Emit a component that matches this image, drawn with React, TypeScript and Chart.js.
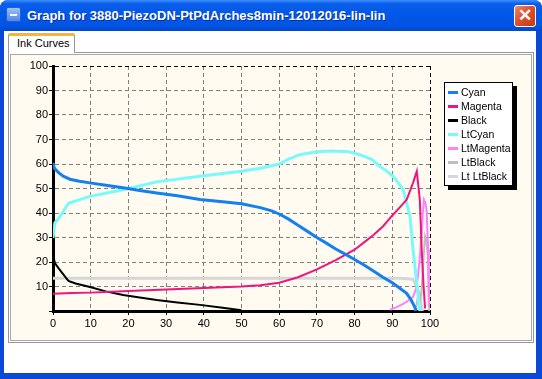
import React, { useEffect, useRef } from "react";
import { Chart, registerables } from "chart.js";

Chart.register(...registerables);

const TITLE = "Graph for 3880-PiezoDN-PtPdArches8min-12012016-lin-lin";
const TAB_LABEL = "Ink Curves";

const SERIES_NAMES = ["Cyan", "Magenta", "Black", "LtCyan", "LtMagenta", "LtBlack", "Lt LtBlack"];
const SERIES_COLORS = ["#1480F0", "#F0147C", "#000000", "#78FAFA", "#FF80FF", "#BEBEBE", "#D6D6D6"];
const SERIES_WIDTHS = [3, 2, 2, 3, 2, 2, 3];

const cyanX = [0, 0.3, 0.6, 1.5, 2.7, 4.5, 7, 9.8, 14, 18.6, 23, 27.5, 33, 39, 45, 50, 55, 58, 60, 62.5, 65, 67.5, 70, 72.5, 75, 77.5, 80, 82.5, 85, 87.5, 90, 92, 93.8, 95, 96, 96.3];
const cyanY = [60.5, 58.5, 57.8, 56.5, 55, 53.8, 53, 52.3, 51.3, 50.3, 49.2, 48.2, 47, 45.5, 44.6, 43.8, 42.2, 40.9, 39.6, 37.5, 35, 32.5, 30, 27.7, 25.3, 23.2, 21, 18.8, 16.3, 13.8, 11.5, 9.3, 7.2, 4.5, 1.5, 0];

const magentaX = [0, 5, 10, 20, 30, 40, 50, 55, 60, 65, 70, 75, 80, 82.5, 85, 87.5, 90, 92, 93.8, 95.5, 96.5, 97.3, 97.8, 98.3, 98.7];
const magentaY = [7, 7.3, 7.5, 8.2, 8.8, 9.4, 10, 10.5, 11.5, 13.8, 17, 20.8, 25, 28, 31, 34.5, 39, 42.3, 45.4, 52.3, 57, 45.4, 25, 10, 1];

const blackX = [0, 0.5, 1.4, 3.2, 4.1, 6, 9.8, 14, 18.6, 23, 27.5, 33, 39, 45, 50];
const blackY = [23, 19.6, 17.6, 14, 12.3, 11.2, 9.8, 8, 6.5, 5.5, 4.5, 3.5, 2.5, 1.3, 0.3];

const ltCyanX = [0, 0.5, 1.9, 4.1, 9.8, 18.6, 27.5, 39, 50, 55, 60, 62.5, 65.4, 70, 74, 78.5, 81.4, 84.6, 86.7, 88, 90.2, 91.7, 92.9, 94.7, 95.5, 96.5, 97.3];
const ltCyanY = [29.8, 36, 38.6, 44, 46.8, 49.5, 52.7, 55, 57, 58.3, 60, 62, 63.8, 65, 65.3, 65, 63.8, 61.8, 59, 57.7, 55, 52, 49.5, 38.6, 25, 11.4, 0];

const ltMagentaX = [89.4, 91, 92.9, 94.5, 95.5, 96.3, 96.8, 97.3, 97.8, 98.1, 98.4, 98.8, 99.1, 99.5, 99.7];
const ltMagentaY = [0.5, 1.5, 2.9, 4.5, 5.8, 9, 14, 22, 32, 40, 45.4, 44, 41, 25, 1.7];

const ltBlackX = [96, 96.5, 97, 97.5, 97.8, 98.2, 98.7, 99.1, 99.5, 99.8];
const ltBlackY = [0, 3, 8, 5, 8.6, 20, 30.4, 28, 21, 0];

const ltLtBlackX = [0, 92, 95.5, 96.5, 97.5, 98];
const ltLtBlackY = [13.4, 13.4, 13, 10, 4, 0];

const SERIES_X = [cyanX, magentaX, blackX, ltCyanX, ltMagentaX, ltBlackX, ltLtBlackX];
const SERIES_Y = [cyanY, magentaY, blackY, ltCyanY, ltMagentaY, ltBlackY, ltLtBlackY];

const AXIS_MIN = 0;
const AXIS_MAX = 100;
const AXIS_STEP = 10;

const FONT = "'Liberation Sans', Arial, sans-serif";

function ChartCanvas() {
  const ref = useRef<HTMLCanvasElement | null>(null);
  useEffect(() => {
    if (!ref.current) return;
    const datasets = SERIES_NAMES.map((name, i) => ({
      label: name,
      data: SERIES_X[i].map((x, j) => ({ x, y: SERIES_Y[i][j] })),
      borderColor: SERIES_COLORS[i],
      backgroundColor: SERIES_COLORS[i],
      borderWidth: SERIES_WIDTHS[i],
      pointRadius: 0,
      tension: 0,
      fill: false,
    }));
    const gridColor = (c: any) => (c.tick && c.tick.value === AXIS_MAX ? "#000000" : "#808080");
    const chart = new Chart(ref.current, {
      type: "line",
      data: { datasets },
      options: {
        animation: false,
        responsive: false,
        maintainAspectRatio: false,
        layout: { padding: { top: 11, right: 101, left: 0, bottom: 0 } },
        plugins: { legend: { display: false }, tooltip: { enabled: false } },
        scales: {
          x: {
            type: "linear",
            min: AXIS_MIN,
            max: AXIS_MAX,
            afterFit: (s: any) => { s.height = 29; },
            ticks: { stepSize: AXIS_STEP, color: "#000", font: { family: FONT, size: 11 }, padding: 2, maxRotation: 0 },
            grid: { color: gridColor, lineWidth: 1, tickLength: 4, tickColor: "#000", tickBorderDash: [] },
            border: { display: true, color: "#000", width: 3, dash: [4, 3] },
          },
          y: {
            type: "linear",
            min: AXIS_MIN,
            max: AXIS_MAX,
            afterFit: (s: any) => { s.width = 42; },
            ticks: {
              stepSize: AXIS_STEP,
              color: "#000",
              font: { family: FONT, size: 11 },
              padding: 1,
              callback: (v: any) => (v === AXIS_MIN ? "" : String(v)),
            },
            grid: { color: gridColor, lineWidth: 1, tickLength: 4, tickColor: "#000", tickBorderDash: [] },
            border: { display: true, color: "#000", width: 3, dash: [4, 3] },
          },
        },
      },
    });
    return () => chart.destroy();
  }, []);
  return (
    <canvas
      ref={ref}
      width={520}
      height={285}
      style={{ position: "absolute", left: 11, top: 55, width: 520, height: 285 }}
    />
  );
}

function Legend() {
  return (
    <div
      style={{
        position: "absolute",
        left: 444,
        top: 82,
        width: 67,
        height: 100,
        border: "1px solid #000",
        background: "#fff",
        boxShadow: "4px 4px 0 #000",
        paddingTop: 2,
        boxSizing: "content-box",
      }}
    >
      {SERIES_NAMES.map((n, i) => (
        <div key={n} style={{ position: "relative", height: 14, lineHeight: "14px", fontFamily: FONT, fontSize: 10.5, color: "#000", whiteSpace: "nowrap" }}>
          <span style={{ position: "absolute", left: 3, top: 6, width: 10, height: 3, background: SERIES_COLORS[i] }} />
          <span style={{ position: "absolute", left: 16, top: 0 }}>{n}</span>
        </div>
      ))}
    </div>
  );
}

export default function App() {
  return (
    <div style={{ position: "fixed", left: 0, top: 0, width: 542, height: 379, overflow: "hidden", background: "#fff" }}>
      <div style={{ position: "absolute", left: 0, top: 0, width: 542, height: 379, background: "#0A48D8", borderTopLeftRadius: 8, borderTopRightRadius: 8 }} />
      <div
        style={{
          position: "absolute",
          left: 0,
          top: 0,
          width: 542,
          height: 31,
          borderTopLeftRadius: 8,
          borderTopRightRadius: 8,
          background: "linear-gradient(#3D8FFD 0%, #0A5EEB 12%, #0058E6 50%, #0255E4 82%, #0046D0 100%)",
        }}
      />
      <div style={{ position: "absolute", left: 6, top: 7, width: 15, height: 15, borderRadius: 2, background: "linear-gradient(#9CC2FF, #4E86E8)", border: "1px solid #2A5FC8", boxSizing: "border-box" }}>
        <div style={{ position: "absolute", left: 3, top: 6, width: 7, height: 2, background: "#fff" }} />
      </div>
      <div style={{ position: "absolute", left: 27, top: 7, color: "#fff", fontFamily: FONT, fontWeight: "bold", fontSize: 13, lineHeight: "17px", whiteSpace: "nowrap", textShadow: "1px 1px 0 #0A2FA0" }}>
        {TITLE}
      </div>
      <div
        style={{
          position: "absolute",
          left: 514,
          top: 5,
          width: 22,
          height: 22,
          borderRadius: 3,
          border: "1px solid #fff",
          boxSizing: "border-box",
          background: "linear-gradient(135deg, #F08A6A 0%, #E0502C 45%, #C43A16 100%)",
          color: "#fff",
          fontFamily: FONT,
          fontWeight: "bold",
          fontSize: 17,
          lineHeight: "19px",
          textAlign: "center",
        }}
      >
        ✕
      </div>
      <div style={{ position: "absolute", left: 4, top: 31, width: 532, height: 342, background: "#fff" }} />
      <div style={{ position: "absolute", left: 8, top: 52, width: 526, height: 291, border: "1px solid #919B9C", boxSizing: "border-box", background: "#fff" }} />
      <div style={{ position: "absolute", left: 10, top: 54, width: 522, height: 287, border: "1px solid #A9A9A9", boxSizing: "border-box", background: "#FFFBF0" }} />
      <div
        style={{
          position: "absolute",
          left: 8,
          top: 33,
          width: 67,
          height: 20,
          border: "1px solid #919B9C",
          borderBottom: "none",
          borderTop: "3px solid #F5B43C",
          boxSizing: "border-box",
          background: "#fff",
          borderTopLeftRadius: 2,
          borderTopRightRadius: 2,
          fontFamily: FONT,
          fontSize: 11,
          lineHeight: "15px",
          color: "#000",
          paddingLeft: 8,
          whiteSpace: "nowrap",
        }}
      >
        {TAB_LABEL}
      </div>
      <ChartCanvas />
      <Legend />
    </div>
  );
}
